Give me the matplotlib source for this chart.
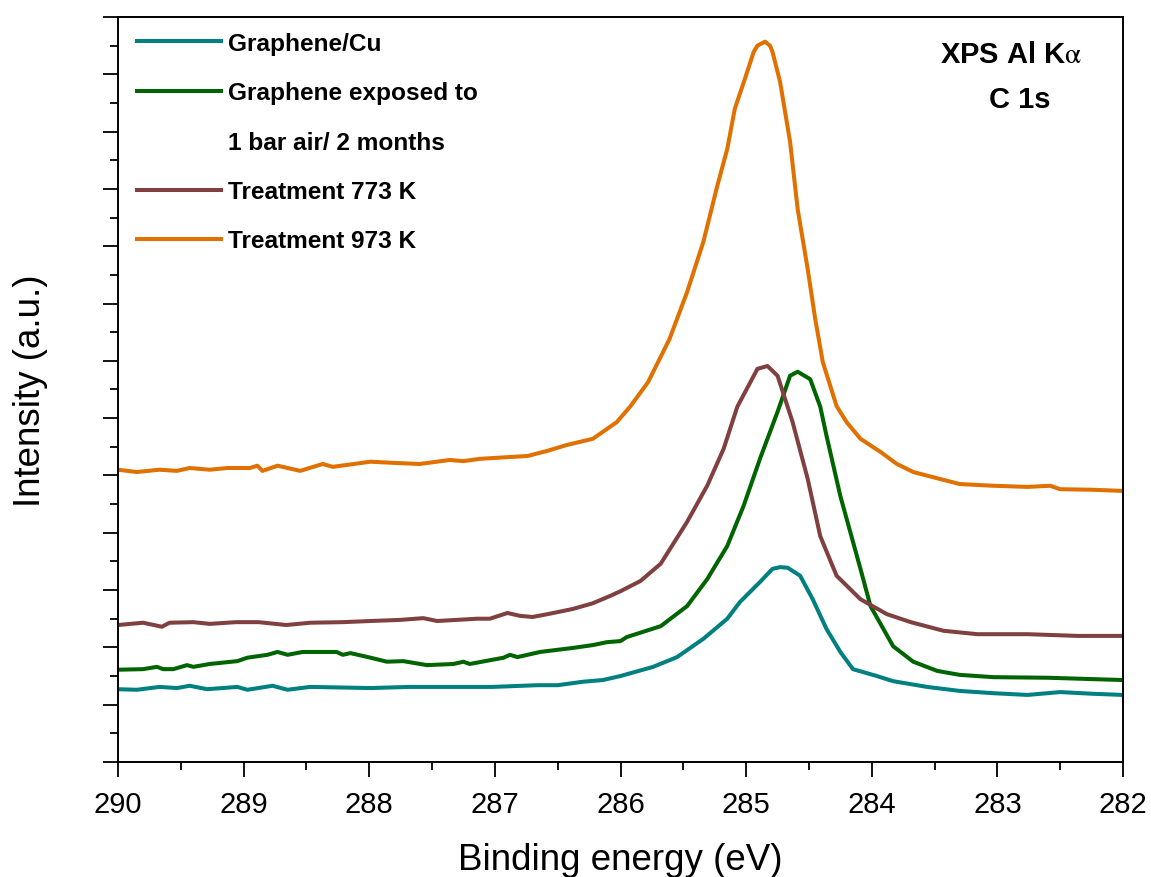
import matplotlib
matplotlib.use("Agg")
import matplotlib.pyplot as plt
from matplotlib.lines import Line2D
from matplotlib.ticker import MultipleLocator, NullFormatter

plt.rcParams['font.family'] = ['Liberation Sans', 'DejaVu Sans']
plt.rcParams['mathtext.fontset'] = 'stix'

# Graphene/Cu
cu_E = [290.00, 289.85, 289.67, 289.53, 289.43, 289.29, 289.05, 288.97, 288.77, 288.65,
        288.47, 287.99, 287.68, 287.28, 287.02, 286.66, 286.50, 286.30, 286.14, 286.00,
        285.74, 285.55, 285.34, 285.15, 285.05, 284.89, 284.79, 284.73, 284.67, 284.57,
        284.47, 284.36, 284.25, 284.15, 283.96, 283.83, 283.56, 283.30, 283.03, 282.76,
        282.50, 282.24, 282.00]
cu_I = [1.27, 1.26, 1.31, 1.29, 1.33, 1.27, 1.31, 1.26, 1.33, 1.26,
        1.31, 1.29, 1.31, 1.31, 1.31, 1.34, 1.34, 1.40, 1.43, 1.50,
        1.66, 1.83, 2.15, 2.50, 2.79, 3.14, 3.37, 3.40, 3.39, 3.25,
        2.84, 2.32, 1.92, 1.62, 1.50, 1.41, 1.31, 1.24, 1.20, 1.17,
        1.22, 1.19, 1.17]

# Graphene exposed to 1 bar air / 2 months
air_E = [290.00, 289.80, 289.69, 289.64, 289.56, 289.45, 289.40, 289.27, 289.05, 288.97,
         288.81, 288.73, 288.65, 288.53, 288.26, 288.21, 288.15, 287.99, 287.86, 287.73,
         287.54, 287.33, 287.25, 287.20, 286.93, 286.88, 286.82, 286.64, 286.38, 286.22,
         286.11, 286.00, 285.95, 285.68, 285.47, 285.31, 285.15, 285.02, 284.89, 284.75,
         284.65, 284.59, 284.49, 284.41, 284.36, 284.25, 284.09, 284.01, 283.83,
         283.67, 283.48, 283.30, 283.03, 282.60, 282.00]
air_I = [1.61, 1.62, 1.66, 1.62, 1.62, 1.69, 1.66, 1.71, 1.76, 1.82,
         1.87, 1.92, 1.87, 1.92, 1.92, 1.87, 1.90, 1.82, 1.75, 1.76,
         1.69, 1.71, 1.75, 1.71, 1.82, 1.87, 1.83, 1.92, 1.99, 2.04,
         2.09, 2.11, 2.18, 2.37, 2.72, 3.19, 3.77, 4.47, 5.29, 6.11,
         6.74, 6.81, 6.68, 6.20, 5.69, 4.64, 3.37, 2.72, 2.02,
         1.75, 1.59, 1.52, 1.48, 1.47, 1.43]

# Treatment 773 K
t773_E = [290.00, 289.80, 289.65, 289.59, 289.40, 289.27, 289.06, 288.88, 288.66, 288.47,
          288.21, 287.99, 287.75, 287.57, 287.46, 287.14, 287.04, 286.90, 286.80, 286.70,
          286.58, 286.38, 286.22, 286.08, 286.00, 285.84, 285.68, 285.47, 285.31, 285.18,
          285.07, 284.91, 284.83, 284.75, 284.63, 284.51, 284.41, 284.28, 284.09, 283.88,
          283.69, 283.43, 283.16, 282.76, 282.36, 282.00]
t773_I = [2.39, 2.43, 2.36, 2.43, 2.44, 2.41, 2.44, 2.44, 2.39, 2.43,
          2.44, 2.46, 2.48, 2.51, 2.46, 2.50, 2.50, 2.60, 2.55, 2.53,
          2.58, 2.67, 2.77, 2.90, 2.98, 3.16, 3.46, 4.19, 4.82, 5.46,
          6.20, 6.86, 6.91, 6.74, 5.93, 4.94, 3.94, 3.25, 2.84, 2.58,
          2.44, 2.29, 2.23, 2.23, 2.20, 2.20]

# Treatment 973 K
t973_E = [290.00, 289.85, 289.67, 289.53, 289.43, 289.27, 289.13, 288.95, 288.89, 288.85,
          288.73, 288.55, 288.37, 288.29, 287.99, 287.81, 287.60, 287.36, 287.25, 287.12,
          286.74, 286.58, 286.43, 286.22, 286.03, 285.92, 285.78, 285.61, 285.47, 285.34,
          285.23, 285.15, 285.09, 285.01, 284.94, 284.91, 284.85, 284.81, 284.79, 284.73,
          284.65, 284.59, 284.51, 284.45, 284.39, 284.28, 284.20, 284.09, 283.93, 283.80,
          283.67, 283.46, 283.30, 283.03, 282.76, 282.58, 282.50, 282.24, 282.00]
t973_I = [5.10, 5.06, 5.10, 5.08, 5.13, 5.10, 5.13, 5.13, 5.17, 5.08,
          5.17, 5.08, 5.20, 5.15, 5.24, 5.22, 5.20, 5.27, 5.25, 5.29,
          5.34, 5.43, 5.53, 5.64, 5.93, 6.21, 6.63, 7.38, 8.20, 9.08,
          10.05, 10.70, 11.40, 11.92, 12.39, 12.50, 12.57, 12.50, 12.39, 11.87,
          10.82, 9.65, 8.60, 7.73, 6.98, 6.21, 5.93, 5.64, 5.41, 5.20,
          5.06, 4.94, 4.85, 4.82, 4.80, 4.82, 4.76, 4.75, 4.73]

labels = ["Graphene/Cu", "Graphene exposed to", "1 bar air/ 2 months",
          "Treatment 773 K", "Treatment 973 K"]
colors = ["#008080", "#006400", "#804040", "#E07000"]

fig = plt.figure(figsize=(11.51, 8.78), dpi=100)
ax = fig.add_axes([0.1025, 0.131, 0.8732, 0.8485])

lw = 2.9
ax.plot(cu_E, cu_I, color=colors[0], lw=lw)
ax.plot(air_E, air_I, color=colors[1], lw=lw)
ax.plot(t773_E, t773_I, color=colors[2], lw=lw)
ax.plot(t973_E, t973_I, color=colors[3], lw=lw)

ax.set_xlim(290, 282)
ax.set_ylim(0, 13)

ax.xaxis.set_major_locator(MultipleLocator(1))
ax.xaxis.set_minor_locator(MultipleLocator(0.5))
ax.yaxis.set_major_locator(MultipleLocator(1))
ax.yaxis.set_minor_locator(MultipleLocator(0.5))
ax.yaxis.set_major_formatter(NullFormatter())
ax.tick_params(axis='both', which='major', direction='out', length=10.5, width=1.3,
               labelsize=21, pad=10)
ax.tick_params(axis='both', which='minor', direction='out', length=5.5, width=1.3)
ax.tick_params(top=False, right=False, which='both')
for sp in ax.spines.values():
    sp.set_linewidth(1.4)

ax.set_xlabel("Binding energy (eV)", fontsize=26.5, labelpad=17)
ax.set_ylabel("Intensity (a.u.)", fontsize=26.5, labelpad=30)

handles = [Line2D([], [], color=colors[0], lw=lw),
           Line2D([], [], color=colors[1], lw=lw),
           Line2D([], [], color='none', lw=lw),
           Line2D([], [], color=colors[2], lw=lw),
           Line2D([], [], color=colors[3], lw=lw)]
leg = ax.legend(handles, labels, loc='upper left', bbox_to_anchor=(0.019, 0.980),
                frameon=False, prop={'weight': 'bold', 'size': 17.6},
                handlelength=3.45, handletextpad=0.25, labelspacing=1.08,
                borderpad=0, borderaxespad=0)

ax.text(0.8886, 0.951, r"XPS Al K$\mathrm{\alpha}$", transform=ax.transAxes,
        fontsize=21, fontweight='bold', ha='center', va='center')
ax.text(0.8975, 0.890, "C 1s", transform=ax.transAxes,
        fontsize=21, fontweight='bold', ha='center', va='center')

fig.savefig("out.png", dpi=100)
